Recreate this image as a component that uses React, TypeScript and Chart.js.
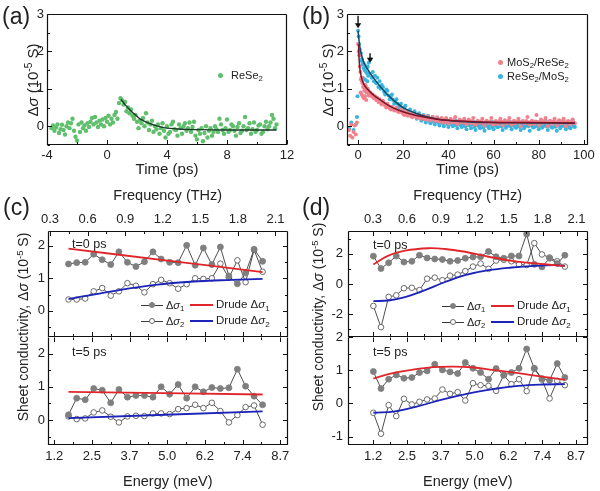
import React, { useEffect, useRef } from "react";
import { Chart, registerables } from "chart.js";
Chart.register(...registerables);

const FONT = "'Liberation Sans', Arial, Helvetica, sans-serif";
const TXT = "#222";

// ---------------- (a) ReSe2 ----------------
const reSe2Points: [number, number][] = [
  [-3.7,-0.05],[-3.6,0.02],[-3.5,-0.12],[-3.4,-0.03],[-3.3,0.05],[-3.2,-0.18],[-3.1,-0.08],[-3.0,0.04],[-2.9,-0.1],[-2.8,-0.22],
  [-2.7,0.0],[-2.6,0.1],[-2.5,-0.05],[-2.4,0.08],[-2.3,0.2],[-2.2,-0.12],[-2.1,-0.28],[-2.0,-0.38],[-1.9,0.05],[-1.8,-0.15],
  [-1.7,0.1],[-1.6,-0.05],[-1.5,0.02],[-1.4,-0.12],[-1.3,0.08],[-1.2,-0.02],[-1.1,0.12],[-1.0,0.22],[-0.9,0.05],[-0.8,0.25],
  [-0.7,0.1],[-0.6,-0.02],[-0.5,0.15],[-0.4,0.05],[-0.3,0.18],[-0.2,0.0],[-0.1,0.22],[0.0,0.12],[0.1,0.28],[0.2,0.05],
  [0.3,0.2],[0.4,0.1],[0.5,0.3],[0.6,0.38],[0.7,0.2],
  [0.8,0.62],[0.9,0.75],[1.0,0.7],[1.1,0.58],[1.2,0.65],[1.3,0.4],[1.4,0.5],[1.5,0.35],[1.6,0.45],[1.7,0.28],
  [1.8,0.2],[1.9,0.3],[2.0,0.12],[2.1,-0.05],[2.2,0.15],[2.3,0.08],[2.4,0.22],[2.5,0.0],[2.6,0.35],[2.7,0.1],
  [2.8,-0.1],[2.9,0.05],[3.0,0.15],[3.1,-0.15],[3.2,0.0],[3.3,-0.08],[3.4,0.05],[3.5,-0.2],[3.6,-0.05],[3.7,0.08],
  [3.8,-0.12],[3.9,-0.3],
  [4.0,0.0],[4.1,-0.2],[4.2,-0.15],[4.3,0.05],[4.4,0.12],[4.5,-0.08],[4.6,-0.1],[4.7,-0.25],[4.8,0.05],[4.9,-0.05],
  [5.0,-0.2],[5.1,0.0],[5.2,0.08],[5.3,-0.12],[5.4,-0.05],[5.5,0.1],[5.6,-0.15],[5.7,-0.02],[5.8,0.12],[5.9,-0.25],
  [6.0,-0.35],[6.1,-0.1],[6.2,-0.2],[6.3,-0.05],[6.4,-0.4],[6.5,-0.18],[6.6,0.0],[6.7,-0.3],[6.8,-0.12],[6.9,-0.05],
  [7.0,-0.25],[7.1,-0.15],[7.2,0.0],[7.3,-0.08],[7.4,-0.15],[7.5,0.2],[7.6,0.05],[7.7,-0.1],[7.8,-0.2],[7.9,-0.05],
  [8.0,0.18],[8.1,-0.15],[8.2,-0.1],[8.3,0.05],[8.4,0.0],[8.5,-0.12],[8.6,-0.25],[8.7,-0.02],[8.8,0.08],[8.9,-0.18],
  [9.0,-0.12],[9.1,0.0],[9.2,0.25],[9.3,-0.1],[9.4,-0.05],[9.5,0.08],[9.6,-0.2],[9.7,-0.08],[9.8,0.1],[9.9,-0.15],
  [10.0,-0.1],[10.1,0.02],[10.2,0.05],[10.3,-0.2],[10.4,-0.15],[10.5,0.0],[10.6,0.12],[10.7,-0.08],[10.8,0.0],[10.9,0.1],
  [11.0,0.3],[11.1,0.2],[11.2,-0.05],[11.3,0.05],
];
const reSe2Fit: [number, number][] = [
  [0.93,0.72],[1.2,0.58],[1.5,0.45],[1.76,0.35],[2.2,0.2],[2.87,0.07],[3.5,-0.01],[4.0,-0.05],[5,-0.08],[6,-0.09],[8,-0.1],[11.3,-0.1],
];
const aTimeMajor = [-4, 0, 4, 8, 12];
const aTimeMinor = [-2, 2, 6, 10];
const sigmaMajor = [0, 1, 2, 3];
const sigmaMinor = [-0.5, 0.5, 1.5, 2.5];

// ---------------- (b) heterostructures ----------------
const mosReSePoints: [number, number][] = [
  [-4,-0.1],[-3.5,-0.25],[-3,0.05],[-2.5,-0.3],[-2,-0.15],[-1.5,0.02],[-1,-0.22],[-0.5,0.1],
  [0,2.2],[0.25,2.0],[0.5,1.9],[0.75,1.6],[1,1.45],[1.1,0.9],[1.25,1.25],[1.5,1.3],[1.6,0.85],[1.75,1.2],[2,1.15],[2.1,0.8],
  [2.25,1.05],[2.5,1.1],[2.6,0.75],[2.75,0.95],[3,1.0],[3.1,0.8],[3.25,1.1],[3.5,1.05],[3.6,0.7],[3.75,0.9],[4,0.92],[4.25,1.0],
  [4.5,0.95],[4.75,0.82],[5,0.85],[5.5,0.9],[6,0.8],[6.5,0.85],[7,0.75],[7.5,0.8],[8,0.7],[8.5,0.76],[9,0.65],[9.5,0.72],[10,0.62],
  [11,0.68],[12,0.55],[13,0.6],[14,0.48],[15,0.52],[16,0.42],[17,0.5],[18,0.38],[19,0.45],[20,0.33],
  [21,0.4],[22,0.28],[23,0.36],[24,0.25],[25,0.33],[26,0.22],[27,0.3],[28,0.2],[29,0.28],[30,0.18],
  [31,0.26],[32,0.16],[33,0.25],[34,0.14],[35,0.24],[36,0.12],[37,0.22],[38,0.1],[39,0.22],[40,0.08],
  [41,0.2],[42,0.1],[43,0.25],[44,0.06],[45,0.18],[46,0.1],[47,0.2],[48,0.05],[49,0.18],[50,0.08],
  [51,0.22],[52,0.04],[53,0.15],[54,0.1],[55,0.2],[56,0.02],[57,0.15],[58,0.08],[59,0.22],[60,0.05],
  [61,0.14],[62,0.06],[63,0.2],[64,0.02],[65,0.16],[66,0.08],[67,0.22],[68,0.04],[69,0.15],[70,0.1],
  [71,0.2],[72,0.0],[73,0.14],[74,0.08],[75,0.25],[76,0.04],[77,0.15],[78,0.06],[79,0.3],[80,0.02],
  [81,0.18],[82,0.1],[83,0.22],[84,0.0],[85,0.15],[86,0.06],[87,0.2],[88,0.02],[89,0.16],[90,0.08],
  [91,0.2],[92,0.0],[93,0.14],[94,0.05],[95,0.18],[96,0.08],
];
const mosReSeExtra: [number, number][] = [
  [10.5,0.58],[11.5,0.62],[12.5,0.5],[13.5,0.55],[14.5,0.45],[15.5,0.47],[16.5,0.46],[17.5,0.4],[18.5,0.42],[19.5,0.36],
  [20.5,0.3],[21.5,0.34],[22.5,0.32],[23.5,0.27],[24.5,0.3],[25.5,0.26],[26.5,0.25],[27.5,0.23],[28.5,0.24],[29.5,0.2],
  [30.5,0.22],[31.5,0.2],[32.5,0.2],[33.5,0.18],[34.5,0.2],[35.5,0.16],[36.5,0.18],[37.5,0.15],[38.5,0.17],[39.5,0.13],
  [40.5,0.15],[41.5,0.12],[42.5,0.17],[43.5,0.1],[44.5,0.14],[45.5,0.12],[46.5,0.14],[47.5,0.1],[48.5,0.13],[49.5,0.11],
  [50.5,0.14],[51.5,0.09],[52.5,0.12],[53.5,0.1],[54.5,0.13],[55.5,0.08],[56.5,0.12],[57.5,0.1],[58.5,0.13],[59.5,0.09],
  [60.5,0.12],[61.5,0.09],[62.5,0.13],[63.5,0.1],[64.5,0.12],[65.5,0.09],[66.5,0.14],[67.5,0.1],[68.5,0.12],[69.5,0.08],
  [70.5,0.13],[71.5,0.1],[72.5,0.12],[73.5,0.09],[74.5,0.14],[75.5,0.1],[76.5,0.12],[77.5,0.08],[78.5,0.13],[79.5,0.1],
  [80.5,0.12],[81.5,0.09],[82.5,0.14],[83.5,0.1],[84.5,0.12],[85.5,0.08],[86.5,0.13],[87.5,0.1],[88.5,0.12],[89.5,0.09],
  [90.5,0.14],[91.5,0.1],[92.5,0.12],[93.5,0.08],[94.5,0.13],[95.5,0.1],
];
const reSeMosPoints: [number, number][] = [
  [-4,-0.05],[-3,0.1],[-2,-0.1],[-1,0.05],[-0.5,0.25],[-0.25,0.8],
  [0,2.55],[0.25,2.4],[0.5,2.2],[0.75,2.05],[1,1.9],[1.25,1.95],[1.5,1.75],[1.75,1.8],[2,1.65],[2.1,1.3],[2.25,1.7],[2.5,1.55],
  [2.75,1.65],[3,1.5],[3.1,1.25],[3.25,1.6],[3.5,1.45],[3.75,1.55],[4,1.42],[4.1,1.2],[4.25,1.6],[4.5,1.35],[4.75,1.7],[5,1.4],
  [5.5,1.8],[6,1.3],[6.5,1.45],[7,1.2],[7.5,1.35],[8,1.15],[8.5,1.3],[9,1.05],[9.5,1.2],[10,1.0],
  [11,1.05],[12,0.85],[13,0.95],[14,0.72],[15,0.85],[16,0.6],[17,0.72],[18,0.5],[19,0.6],[20,0.42],
  [21,0.55],[22,0.3],[23,0.45],[24,0.25],[25,0.4],[26,0.2],[27,0.35],[28,0.15],[29,0.3],[30,0.1],
  [31,0.28],[32,0.08],[33,0.25],[34,0.05],[35,0.2],[36,0.02],[37,0.2],[38,0.0],[39,0.18],[40,-0.02],
  [41,0.15],[42,0.0],[43,0.16],[44,-0.05],[45,0.12],[46,-0.02],[47,0.15],[48,-0.08],[49,0.1],[50,-0.05],
  [51,0.12],[52,-0.1],[53,0.08],[54,-0.05],[55,0.1],[56,-0.12],[57,0.05],[58,-0.05],[59,0.12],[60,-0.08],
  [61,0.08],[62,-0.02],[63,0.15],[64,-0.1],[65,0.05],[66,0.0],[67,0.12],[68,-0.08],[69,0.1],[70,-0.04],
  [71,0.15],[72,-0.1],[73,0.06],[74,0.0],[75,0.1],[76,-0.12],[77,0.05],[78,-0.02],[79,0.12],[80,-0.08],
  [81,0.08],[82,0.0],[83,0.15],[84,-0.1],[85,0.05],[86,-0.04],[87,0.1],[88,-0.12],[89,0.06],[90,0.0],
  [91,0.12],[92,-0.08],[93,0.08],[94,-0.05],[95,0.15],[96,-0.02],
];
const reSeMosExtra: [number, number][] = [
  [10.5,1.1],[11.5,0.92],[12.5,0.98],[13.5,0.82],[14.5,0.78],[15.5,0.7],[16.5,0.68],[17.5,0.6],[18.5,0.56],[19.5,0.48],
  [20.5,0.5],[21.5,0.4],[22.5,0.38],[23.5,0.32],[24.5,0.33],[25.5,0.28],[26.5,0.27],[27.5,0.22],[28.5,0.24],[29.5,0.18],
  [30.5,0.2],[31.5,0.15],[32.5,0.18],[33.5,0.12],[34.5,0.14],[35.5,0.1],[36.5,0.12],[37.5,0.08],[38.5,0.1],[39.5,0.06],
  [40.5,0.08],[41.5,0.05],[42.5,0.08],[43.5,0.03],[44.5,0.06],[45.5,0.02],[46.5,0.06],[47.5,0.0],[48.5,0.04],[49.5,0.02],
  [50.5,0.05],[51.5,-0.02],[52.5,0.03],[53.5,0.0],[54.5,0.04],[55.5,-0.03],[56.5,0.02],[57.5,0.0],[58.5,0.05],[59.5,-0.02],
  [60.5,0.03],[61.5,-0.02],[62.5,0.05],[63.5,0.0],[64.5,0.02],[65.5,-0.04],[66.5,0.06],[67.5,0.0],[68.5,0.03],[69.5,-0.02],
  [70.5,0.05],[71.5,-0.01],[72.5,0.02],[73.5,-0.05],[74.5,0.04],[75.5,0.0],[76.5,0.03],[77.5,-0.03],[78.5,0.05],[79.5,0.0],
  [80.5,0.02],[81.5,-0.04],[82.5,0.06],[83.5,0.0],[84.5,0.03],[85.5,-0.02],[86.5,0.05],[87.5,-0.01],[88.5,0.02],[89.5,-0.05],
  [90.5,0.04],[91.5,0.0],[92.5,0.03],[93.5,-0.03],[94.5,0.05],[95.5,0.0],
];
const mosReSeFit: [number, number][] = [
  [0.2,2.2],[0.5,1.75],[1,1.45],[2,1.2],[3,1.08],[4,1.0],[6,0.88],[8,0.78],[10,0.7],[14,0.54],[18,0.43],
  [22,0.35],[28,0.26],[36,0.18],[45,0.14],[58,0.11],[75,0.1],[96,0.09],
];
const reSeMosFit: [number, number][] = [
  [0,2.55],[0.5,2.25],[1,2.05],[2,1.8],[3,1.65],[5,1.45],[7,1.28],[10,1.05],[13,0.85],[16,0.68],[20,0.5],
  [25,0.36],[30,0.26],[36,0.18],[45,0.13],[58,0.1],[75,0.09],[96,0.08],
];
const bTimeMajor = [0, 20, 40, 60, 80, 100];
const bTimeMinor = [10, 30, 50, 70, 90];
const arrowTimes = [0, 5.3];
const arrowTops = [2.95, 1.95];
const arrowTips = [2.62, 1.7];

// ---------------- (c)/(d) shared axes ----------------
const freqTicks = [0.3, 0.6, 0.9, 1.2, 1.5, 1.8, 2.1];
const freqLabels = ["0.3", "0.6", "0.9", "1.2", "1.5", "1.8", "2.1"];
const freqMinor = [0.45, 0.75, 1.05, 1.35, 1.65, 1.95];
const energyTicks = [1.24, 2.48, 3.72, 4.96, 6.2, 7.44, 8.68];
const energyLabels = ["1.2", "2.5", "3.7", "5.0", "6.2", "7.4", "8.7"];
const energyMinor = [1.86, 3.1, 4.34, 5.58, 6.82, 8.06];

// ---------------- (c) ----------------
const energyC = [1.71,1.98,2.26,2.54,2.82,3.10,3.37,3.65,3.93,4.21,4.49,4.76,5.04,5.32,5.60,5.88,6.15,6.43,6.71,6.99,7.27,7.54,7.82,8.10];
const c0Sigma1 = [1.44,1.48,1.49,1.74,1.57,1.42,1.81,1.49,1.36,1.51,1.81,1.59,1.49,1.48,2.01,1.40,1.93,1.42,1.96,1.07,0.83,1.16,1.89,1.52];
const c0Sigma2 = [0.35,0.35,0.38,0.60,0.70,0.47,0.60,0.85,0.77,0.57,0.82,0.95,0.85,0.68,0.82,1.00,0.98,1.00,1.45,1.02,1.55,0.88,1.87,1.20];
const c0Drude1: [number, number][] = [[1.71,1.91],[4.9,1.55],[8.1,1.19]];
const c0Drude2: [number, number][] = [[1.71,0.36],[3.13,0.6],[4.56,0.8],[5.99,0.91],[7.09,0.95],[8.1,0.98]];
const c5Sigma1 = [0.16,0.66,0.61,0.95,0.90,0.52,0.92,0.69,0.74,0.74,0.69,1.00,0.78,1.07,0.66,1.00,0.85,0.98,0.95,0.97,1.53,1.02,0.72,0.46];
const c5Sigma2 = [0.11,0.03,0.05,0.23,0.29,0.10,-0.07,0.11,0.13,0.12,0.20,0.20,0.18,0.33,0.36,0.46,0.36,0.52,0.27,-0.07,0.15,0.39,0.44,-0.14];
const c5Drude1: [number, number][] = [[1.71,0.85],[8.1,0.77]];
const c5Drude2: [number, number][] = [[1.71,0.06],[8.1,0.26]];
const cTopMajor = [0, 1, 2];
const cMinor = [-0.5, 0.5, 1.5];

// ---------------- (d) ----------------
const energyD = [1.25,1.53,1.81,2.09,2.37,2.66,2.94,3.22,3.50,3.78,4.06,4.34,4.62,4.90,5.18,5.47,5.75,6.03,6.31,6.59,6.87,7.15,7.43,7.71,7.99,8.27];
const d0Sigma1 = [1.84,1.02,1.40,1.85,1.45,1.50,1.90,1.72,1.65,1.62,1.50,1.55,1.70,1.78,1.80,2.15,1.80,1.70,1.85,1.85,3.30,1.30,1.13,1.70,1.35,1.90];
const d0Sigma2 = [-1.45,-2.85,-0.85,-0.75,-0.28,-0.25,-0.40,0.35,0.42,0.25,0.55,0.62,0.85,1.15,1.35,1.00,1.55,1.60,1.50,1.30,1.25,2.70,1.95,1.75,1.50,1.15];
const d0Drude1: [number, number][] = [[1.25,1.29],[1.80,1.87],[2.41,2.2],[3.27,2.36],[3.88,2.31],[4.61,2.13],[5.47,1.8],[6.32,1.53],[7.18,1.36],[7.92,1.24],[8.27,1.18]];
const d0Drude2: [number, number][] = [[1.25,-1.13],[1.80,-1.09],[2.41,-0.87],[3.02,-0.49],[3.88,0.13],[4.61,0.58],[5.47,0.91],[6.32,1.09],[7.18,1.2],[7.92,1.24],[8.27,1.2]];
const d5Sigma1 = [0.96,0.45,0.73,0.86,0.76,0.78,0.93,0.98,1.18,1.01,0.95,0.90,1.23,1.06,0.93,0.73,1.05,0.85,0.93,1.06,1.64,1.06,0.75,0.70,1.20,0.78];
const d5Sigma2 = [-0.28,-0.91,-0.05,-0.38,0.14,-0.03,0.05,0.12,0.15,0.42,0.29,0.34,0.09,0.61,0.55,0.53,0.38,0.85,0.58,0.73,0.37,1.05,0.72,0.15,0.68,0.55];
const d5Drude1: [number, number][] = [[1.25,0.75],[1.80,0.88],[2.41,0.98],[3.27,1.08],[4.12,1.11],[4.85,1.09],[5.71,1.0],[6.56,0.91],[7.42,0.81],[8.27,0.71]];
const d5Drude2: [number, number][] = [[1.25,-0.28],[2.04,-0.24],[2.90,-0.08],[3.88,0.14],[4.85,0.32],[5.71,0.44],[6.56,0.53],[7.42,0.57],[8.27,0.58]];
const dTopMajor = [-2, 0, 2];
const dTopMinor = [-3, -1, 1, 3];
const dBotMajor = [-1, 0, 1, 2];
const dBotMinor = [-0.5, 0.5, 1.5];

// ---------------- helpers ----------------
const pairs = (p: [number, number][]) => p.map(([x, y]) => ({ x, y }));
const zip = (xs: number[], ys: number[]) => xs.map((x, i) => ({ x, y: ys[i] }));

type AxisSpec = {
  pos: "left" | "right" | "top" | "bottom";
  min: number; max: number;
  ticks?: number[]; labels?: string[];
  size?: number; pad?: number; show?: boolean;
  title?: string; titleSize?: number; titleTop?: number; titleBottom?: number;
};
function axis(s: AxisSpec) {
  const vertical = s.pos === "left" || s.pos === "right";
  return {
    type: "linear",
    position: s.pos,
    min: s.min,
    max: s.max,
    display: s.show !== false,
    grid: { display: false, drawTicks: false },
    border: { display: false },
    ticks: {
      padding: s.pad ?? 3,
      autoSkip: false,
      maxRotation: 0,
      minRotation: 0,
      color: TXT,
      font: { family: FONT, size: 13 },
      callback: (v: number, i: number) => (s.labels ? s.labels[i] : String(v)),
    },
    afterBuildTicks: (sc: any) => {
      sc.ticks = (s.ticks ?? []).map((v) => ({ value: v }));
    },
    afterFit: (sc: any) => {
      if (vertical) sc.width = s.size ?? 0;
      else sc.height = s.size ?? 0;
      sc.paddingLeft = 0; sc.paddingRight = 0; sc.paddingTop = 0; sc.paddingBottom = 0;
    },
    title: s.title
      ? {
          display: true,
          text: s.title,
          color: TXT,
          font: { family: FONT, size: s.titleSize ?? 14.5 },
          padding: { top: s.titleTop ?? 0, bottom: s.titleBottom ?? 0 },
        }
      : { display: false },
  };
}

type Side = { side: "left" | "right" | "top" | "bottom"; scale: string; major: number[]; minor: number[] };
function framePlugin(sides: Side[], skipTopEdge = false) {
  return {
    id: "frame",
    afterDatasetsDraw(chart: any) {
      const { ctx, chartArea: a } = chart;
      const L = Math.round(a.left) + 0.5, R = Math.round(a.right) - 0.5;
      const T = Math.round(a.top) + 0.5, B = Math.round(a.bottom) - 0.5;
      ctx.save();
      ctx.strokeStyle = "#111";
      ctx.lineWidth = 1.2;
      ctx.beginPath();
      if (!skipTopEdge) { ctx.moveTo(L, T); ctx.lineTo(R, T); }
      ctx.moveTo(R, T); ctx.lineTo(R, B); ctx.lineTo(L, B); ctx.lineTo(L, T);
      ctx.stroke();
      ctx.lineWidth = 1;
      for (const s of sides) {
        const sc = chart.scales[s.scale];
        const draw = (v: number, len: number) => {
          const p = Math.round(sc.getPixelForValue(v)) + 0.5;
          ctx.beginPath();
          if (s.side === "left") { ctx.moveTo(L, p); ctx.lineTo(L + len, p); }
          if (s.side === "right") { ctx.moveTo(R, p); ctx.lineTo(R - len, p); }
          if (s.side === "top") { ctx.moveTo(p, T); ctx.lineTo(p, T + len); }
          if (s.side === "bottom") { ctx.moveTo(p, B); ctx.lineTo(p, B - len); }
          ctx.stroke();
        };
        s.major.forEach((v) => draw(v, 4.5));
        s.minor.forEach((v) => draw(v, 2.5));
      }
      ctx.restore();
    },
  };
}

const arrowPlugin = {
  id: "arrows",
  afterDatasetsDraw(chart: any) {
    const { ctx } = chart;
    const xs = chart.scales.x, ys = chart.scales.y;
    ctx.save();
    ctx.strokeStyle = "#111";
    ctx.fillStyle = "#111";
    ctx.lineWidth = 1.4;
    arrowTimes.forEach((t, i) => {
      const x = xs.getPixelForValue(t);
      const y0 = ys.getPixelForValue(arrowTops[i]);
      const y1 = ys.getPixelForValue(arrowTips[i]);
      ctx.beginPath(); ctx.moveTo(x, y0); ctx.lineTo(x, y1 - 4); ctx.stroke();
      ctx.beginPath(); ctx.moveTo(x - 3.2, y1 - 5); ctx.lineTo(x + 3.2, y1 - 5); ctx.lineTo(x, y1); ctx.closePath(); ctx.fill();
    });
    ctx.restore();
  },
};

function baseOptions(padding: any, scales: any) {
  return {
    responsive: false,
    animation: false,
    events: [],
    layout: { padding, autoPadding: false },
    plugins: { legend: { display: false }, tooltip: { enabled: false } },
    scales,
  };
}

function conductivitySets(xs: number[], s1: number[], s2: number[], d1: [number, number][], d2: [number, number][]) {
  return [
    { data: pairs(d1), showLine: true, pointRadius: 0, borderColor: "#e0262b", borderWidth: 1.8, tension: 0.4, order: 0 },
    { data: pairs(d2), showLine: true, pointRadius: 0, borderColor: "#1c23b8", borderWidth: 1.8, tension: 0.4, order: 0 },
    { data: zip(xs, s1), showLine: true, borderColor: "#3a3a3a", borderWidth: 0.9, pointRadius: 3, pointBackgroundColor: "#7f7f7f", pointBorderColor: "#7f7f7f", pointBorderWidth: 0.8, order: 1 },
    { data: zip(xs, s2), showLine: true, borderColor: "#3a3a3a", borderWidth: 0.9, pointRadius: 2.8, pointBackgroundColor: "#ffffff", pointBorderColor: "#6a6a6a", pointBorderWidth: 1, order: 1 },
  ];
}

const makeA = () => ({
  type: "scatter",
  data: {
    datasets: [
      { data: pairs(reSe2Fit), showLine: true, pointRadius: 0, borderColor: "#1c3a27", borderWidth: 1.4, tension: 0.3, order: 0 },
      { data: pairs(reSe2Points), pointRadius: 2.2, backgroundColor: "#5fbf6c", borderWidth: 0, order: 1 },
    ],
  },
  options: baseOptions({ top: 14, right: 13, left: 0, bottom: 0 }, {
    x: axis({ pos: "bottom", min: -4, max: 12, ticks: aTimeMajor, size: 35, pad: 2.2, title: "Time (ps)", titleSize: 15, titleBottom: 1 }),
    y: axis({ pos: "left", min: -0.5, max: 3, ticks: sigmaMajor, size: 47, pad: 3 }),
  }),
  plugins: [framePlugin([
    { side: "left", scale: "y", major: sigmaMajor, minor: sigmaMinor },
    { side: "bottom", scale: "x", major: aTimeMajor, minor: aTimeMinor },
  ])],
});

const makeB = () => ({
  type: "scatter",
  data: {
    datasets: [
      { data: pairs(mosReSeFit), showLine: true, pointRadius: 0, borderColor: "#7d1426", borderWidth: 1.5, tension: 0.3, order: 0 },
      { data: pairs(reSeMosFit), showLine: true, pointRadius: 0, borderColor: "#0c4a66", borderWidth: 1.5, tension: 0.3, order: 0 },
      { data: pairs(mosReSePoints).concat(pairs(mosReSeExtra)), pointRadius: 2, backgroundColor: "#f0818d", borderWidth: 0, order: 1 },
      { data: pairs(reSeMosPoints).concat(pairs(reSeMosExtra)), pointRadius: 2, backgroundColor: "#3ab4dc", borderWidth: 0, order: 2 },
    ],
  },
  options: baseOptions({ top: 14, right: 12, left: 0, bottom: 0 }, {
    x: axis({ pos: "bottom", min: -4.9, max: 101.8, ticks: bTimeMajor, size: 35, pad: 2.2, title: "Time (ps)", titleSize: 15, titleBottom: 1 }),
    y: axis({ pos: "left", min: -0.5, max: 3, ticks: sigmaMajor, size: 47, pad: 3 }),
  }),
  plugins: [
    framePlugin([
      { side: "left", scale: "y", major: sigmaMajor, minor: sigmaMinor },
      { side: "bottom", scale: "x", major: bTimeMajor, minor: bTimeMinor },
    ]),
    arrowPlugin,
  ],
});

function makeTop(eMin: number, eMax: number, fMin: number, fMax: number, yMin: number, yMax: number, yTicks: number[], yMinor: number[], yPad: number, sets: any[]) {
  return () => ({
    type: "scatter",
    data: { datasets: sets },
    options: baseOptions({ top: 0, right: 12.5, left: 0, bottom: 3 }, {
      x: axis({ pos: "bottom", min: eMin, max: eMax, show: false }),
      xTop: axis({ pos: "top", min: fMin, max: fMax, ticks: freqTicks, labels: freqLabels, size: 51, pad: 4.2, title: "Frequency (THz)", titleTop: 7.3 }),
      y: axis({ pos: "left", min: yMin, max: yMax, ticks: yTicks, size: 48, pad: yPad }),
    }),
    plugins: [framePlugin([
      { side: "left", scale: "y", major: yTicks, minor: yMinor },
      { side: "right", scale: "y", major: yTicks, minor: yMinor },
      { side: "top", scale: "xTop", major: freqTicks, minor: freqMinor },
      { side: "bottom", scale: "x", major: energyTicks, minor: energyMinor },
    ])],
  });
}

function makeBottom(eMin: number, eMax: number, yMin: number, yMax: number, yTicks: number[], yMinor: number[], yPad: number, sets: any[]) {
  return () => ({
    type: "scatter",
    data: { datasets: sets },
    options: baseOptions({ top: 10, right: 12.5, left: 0, bottom: 0 }, {
      x: axis({ pos: "bottom", min: eMin, max: eMax, ticks: energyTicks, labels: energyLabels, size: 46, pad: 3.9, title: "Energy (meV)", titleBottom: 0.3 }),
      y: axis({ pos: "left", min: yMin, max: yMax, ticks: yTicks, size: 48, pad: yPad }),
    }),
    plugins: [framePlugin([
      { side: "left", scale: "y", major: yTicks, minor: yMinor },
      { side: "right", scale: "y", major: yTicks, minor: yMinor },
      { side: "top", scale: "x", major: energyTicks, minor: energyMinor },
      { side: "bottom", scale: "x", major: energyTicks, minor: energyMinor },
    ], true)],
  });
}

const makeCTop = makeTop(1.035, 8.92, 0.284, 2.196, -0.8, 2.45, cTopMajor, cMinor, 3,
  conductivitySets(energyC, c0Sigma1, c0Sigma2, c0Drude1, c0Drude2));
const makeCBot = makeBottom(1.035, 8.92, -0.75, 2.5, cTopMajor, cMinor, 3,
  conductivitySets(energyC, c5Sigma1, c5Sigma2, c5Drude1, c5Drude2));
const makeDTop = makeTop(0.32, 9.1, 0.079, 2.197, -3.5, 3.5, dTopMajor, dTopMinor, 5,
  conductivitySets(energyD, d0Sigma1, d0Sigma2, d0Drude1, d0Drude2));
const makeDBot = makeBottom(0.32, 9.1, -1.25, 2.0, dBotMajor, dBotMinor, 5,
  conductivitySets(energyD, d5Sigma1, d5Sigma2, d5Drude1, d5Drude2));

function ChartBox({ left, top, width, height, make }: { left: number; top: number; width: number; height: number; make: () => any }) {
  const ref = useRef<HTMLCanvasElement>(null);
  useEffect(() => {
    const chart = new Chart(ref.current as HTMLCanvasElement, make() as any);
    return () => chart.destroy();
  }, []);
  return (
    <div style={{ position: "absolute", left, top, width, height }}>
      <canvas ref={ref} width={width} height={height} style={{ width, height, display: "block" }} />
    </div>
  );
}

function Txt({ x, y, size, children, rotate = false }: { x: number; y: number; size: number; children: any; rotate?: boolean }) {
  return (
    <div
      style={{
        position: "absolute", left: x, top: y, fontSize: size, lineHeight: 1, whiteSpace: "nowrap", color: TXT,
        transform: rotate ? "translate(-50%,-50%) rotate(-90deg)" : "translateY(-50%)",
      }}
    >
      {children}
    </div>
  );
}

const Sub = ({ c }: { c: string }) => (
  <sub style={{ fontSize: "0.7em", verticalAlign: "-0.3em", lineHeight: 0 }}>{c}</sub>
);
const Sup = ({ c }: { c: string }) => (
  <sup style={{ fontSize: "0.68em", verticalAlign: "0.55em", lineHeight: 0 }}>{c}</sup>
);
const Sig = () => <i>σ</i>;

function Dot({ x, y, color, r = 2.5 }: { x: number; y: number; color: string; r?: number }) {
  return <div style={{ position: "absolute", left: x - r, top: y - r, width: 2 * r, height: 2 * r, borderRadius: "50%", background: color }} />;
}

function CondLegend({ x, y }: { x: number; y: number }) {
  const row = 16;
  const line = (lx: number, ly: number, color: string, w: number, thick: number) => (
    <div style={{ position: "absolute", left: lx, top: Math.round(ly - thick / 2), width: w, height: thick, background: color }} />
  );
  const circ = (cx: number, cy: number, fill: string, stroke: string) => (
    <div style={{ position: "absolute", left: cx - 3, top: Math.round(cy) - 3, width: 6, height: 6, boxSizing: "border-box", borderRadius: "50%", background: fill, border: `1px solid ${stroke}` }} />
  );
  return (
    <>
      {line(x, y, "#3a3a3a", 22, 1)}
      {circ(x + 11, y, "#7f7f7f", "#7f7f7f")}
      <Txt x={x + 25} y={y} size={11}>Δ<Sig /><Sub c="1" /></Txt>
      {line(x + 49, y, "#e0262b", 23, 2)}
      <Txt x={x + 75} y={y} size={11.5}>Drude Δ<Sig /><Sub c="1" /></Txt>
      {line(x, y + row, "#3a3a3a", 22, 1)}
      {circ(x + 11, y + row, "#ffffff", "#6a6a6a")}
      <Txt x={x + 25} y={y + row} size={11}>Δ<Sig /><Sub c="2" /></Txt>
      {line(x + 49, y + row, "#1c23b8", 23, 2)}
      <Txt x={x + 75} y={y + row} size={11.5}>Drude Δ<Sig /><Sub c="2" /></Txt>
    </>
  );
}

export default function App() {
  return (
    <div style={{ position: "absolute", left: 0, top: 0, width: 600, height: 491, background: "#fff", fontFamily: FONT, color: TXT, overflow: "hidden" }}>
      <ChartBox left={0} top={0} width={300} height={180} make={makeA} />
      <ChartBox left={300} top={0} width={300} height={180} make={makeB} />
      <ChartBox left={0} top={180} width={300} height={160} make={makeCTop} />
      <ChartBox left={0} top={327} width={300} height={164} make={makeCBot} />
      <ChartBox left={300} top={180} width={300} height={160} make={makeDTop} />
      <ChartBox left={300} top={327} width={300} height={164} make={makeDBot} />

      {/* panel letters */}
      <Txt x={2} y={16} size={23}>(a)</Txt>
      <Txt x={302} y={16} size={23}>(b)</Txt>
      <Txt x={3} y={207} size={23}>(c)</Txt>
      <Txt x={302} y={207} size={23}>(d)</Txt>

      {/* y titles */}
      <Txt x={32} y={80} size={15} rotate>Δ<Sig /> (10<Sup c="-5" /> S)</Txt>
      <Txt x={327} y={80} size={15} rotate>Δ<Sig /> (10<Sup c="-5" /> S)</Txt>
      <Txt x={23} y={327} size={14} rotate>Sheet conductivity, Δ<Sig /> (10<Sup c="-5" /> S)</Txt>
      <Txt x={318} y={317} size={14} rotate>Sheet conductivity, Δ<Sig /> (10<Sup c="-5" /> S)</Txt>

      {/* legends (a), (b) */}
      <Dot x={220} y={75} color="#5fbf6c" />
      <Txt x={231} y={75} size={11}>ReSe<Sub c="2" /></Txt>
      <Dot x={500} y={62} color="#f0818d" />
      <Txt x={507} y={62} size={11}>MoS<Sub c="2" />/ReSe<Sub c="2" /></Txt>
      <Dot x={500} y={76} color="#3ab4dc" />
      <Txt x={507} y={76} size={11}>ReSe<Sub c="2" />/MoS<Sub c="2" /></Txt>

      {/* delay labels */}
      <Txt x={72} y={244} size={12.5}>t=0 ps</Txt>
      <Txt x={72} y={352} size={12.5}>t=5 ps</Txt>
      <Txt x={373} y={245} size={12.5}>t=0 ps</Txt>
      <Txt x={373} y={352} size={12.5}>t=5 ps</Txt>

      {/* legends (c), (d) */}
      <CondLegend x={141} y={305} />
      <CondLegend x={442} y={306} />
    </div>
  );
}
